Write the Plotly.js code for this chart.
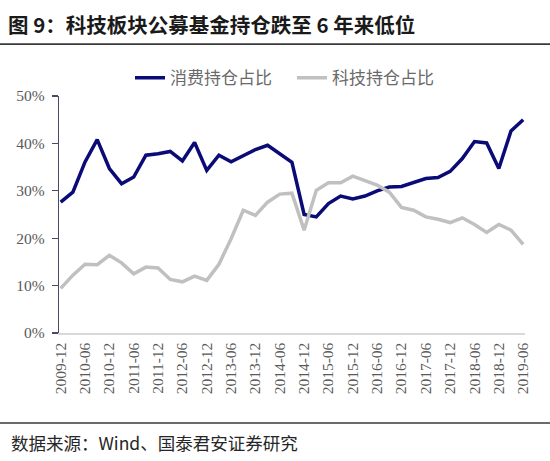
<!DOCTYPE html>
<html>
<head>
<meta charset="utf-8">
<script src="https://cdn.plot.ly/plotly-3.0.1.min.js"></script>
<style>html,body{margin:0;padding:0;background:#fff;}#chart{width:550px;height:461px;}</style>
</head>
<body>
<div id="chart"></div>
<script>
var quarters = ["2009-12","2010-03","2010-06","2010-09","2010-12","2011-03","2011-06","2011-09","2011-12",
  "2012-03","2012-06","2012-09","2012-12","2013-03","2013-06","2013-09","2013-12",
  "2014-03","2014-06","2014-09","2014-12","2015-03","2015-06","2015-09","2015-12",
  "2016-03","2016-06","2016-09","2016-12","2017-03","2017-06","2017-09","2017-12",
  "2018-03","2018-06","2018-09","2018-12","2019-03","2019-06"];
var consumerShare = [27.6,29.7,36.1,40.8,34.7,31.5,32.9,37.5,37.8,38.3,36.3,40.2,34.3,37.5,36.1,37.5,38.7,39.6,37.8,36.0,
  25.0,24.5,27.3,28.9,28.3,28.9,30.0,30.8,30.9,31.7,32.6,32.8,34.1,36.8,40.4,40.1,34.7,42.6,45.0];
var techShare = [9.4,12.2,14.5,14.4,16.4,14.8,12.5,13.9,13.7,11.3,10.8,12.0,11.1,14.5,19.9,25.9,24.8,27.6,29.3,29.5,
  21.7,30.1,31.7,31.7,33.1,32.2,31.2,29.7,26.5,25.9,24.5,24.0,23.3,24.3,22.9,21.2,22.9,21.7,18.7];
var tickLabels = ["2009-12","2010-06","2010-12","2011-06","2011-12","2012-06","2012-12","2013-06","2013-12","2014-06",
  "2014-12","2015-06","2015-12","2016-06","2016-12","2017-06","2017-12","2018-06","2018-12","2019-06"];
var yTicks = [0,10,20,30,40,50];
var seriesNames = ["消费持仓占比","科技持仓占比"];
var titleText = "图 9：科技板块公募基金持仓跌至 6 年来低位";
var sourceText = "数据来源：Wind、国泰君安证券研究";

var cjk = "'Noto Sans CJK SC', 'Noto Sans', sans-serif";
var serif = "'Liberation Serif', 'Times New Roman', serif";

var traces = [
  {x: quarters, y: consumerShare, name: seriesNames[0], type: 'scatter', mode: 'lines',
   line: {color: '#0b0b78', width: 3.5}, legend: 'legend'},
  {x: quarters, y: techShare, name: seriesNames[1], type: 'scatter', mode: 'lines',
   line: {color: '#c0c0c0', width: 3.5}, legend: 'legend2'}
];

var L = 59, R = 525, T = 95.7, B = 332.7;
var W = R - L, H = B - T;
function px(x){ return (x - L) / W; }
function py(y){ return (B - y) / H; }

var legendFont = {family: cjk, size: 17, color: '#6a6a6a'};
var layout = {
  width: 550, height: 461,
  margin: {l: L, r: 550 - R, t: T, b: 461 - B, pad: 0},
  paper_bgcolor: '#ffffff', plot_bgcolor: '#ffffff',
  showlegend: true,
  title: {text: titleText, x: 8/550, xref: 'container', xanchor: 'left',
          y: 1 - 26/461, yref: 'container', yanchor: 'middle',
          font: {family: cjk, size: 20.5, color: '#1a1a1a', weight: 'bold'}},
  legend: {orientation: 'h', x: px(130), xanchor: 'left', y: py(78), yanchor: 'middle',
           font: legendFont, bgcolor: 'rgba(0,0,0,0)', itemwidth: 30},
  legend2: {orientation: 'h', x: px(292), xanchor: 'left', y: py(78), yanchor: 'middle',
           font: legendFont, bgcolor: 'rgba(0,0,0,0)', itemwidth: 30},
  xaxis: {type: 'category', range: [-0.14, 38.15], showgrid: false, zeroline: false,
          showline: true, linecolor: '#d9d9d9', linewidth: 1.5,
          tickmode: 'array', tickvals: tickLabels, ticktext: tickLabels,
          tickangle: -90, ticks: '', ticklen: 0, ticklabelstandoff: 2,
          tickfont: {family: serif, size: 15.5, color: '#595959'}, fixedrange: true},
  yaxis: {range: [0, 50], tickmode: 'array', tickvals: yTicks, ticktext: yTicks.map(function(v){return v + '%';}),
          showgrid: false, zeroline: false, showline: true, linecolor: '#4a4a66', linewidth: 1.2,
          ticks: 'outside', ticklen: 6, tickcolor: '#4a4a66', tickwidth: 1.2, ticklabelstandoff: 4,
          tickfont: {family: serif, size: 15.5, color: '#595959'}, fixedrange: true},
  shapes: [
    {type: 'line', xref: 'paper', yref: 'paper', x0: px(0), x1: px(550), y0: py(43.8), y1: py(43.8),
     line: {color: '#3a3a3a', width: 1.6}},
    {type: 'line', xref: 'paper', yref: 'paper', x0: px(0), x1: px(550), y0: py(422.7), y1: py(422.7),
     line: {color: '#3a3a3a', width: 1.6}}
  ],
  annotations: [
    {text: sourceText, xref: 'paper', yref: 'paper', x: px(9), y: py(441.7), xanchor: 'left', yanchor: 'middle',
     showarrow: false, font: {family: cjk, size: 17.5, color: '#262626'}}
  ]
};

Plotly.newPlot('chart', traces, layout, {displayModeBar: false, staticPlot: true});
</script>
</body>
</html>
